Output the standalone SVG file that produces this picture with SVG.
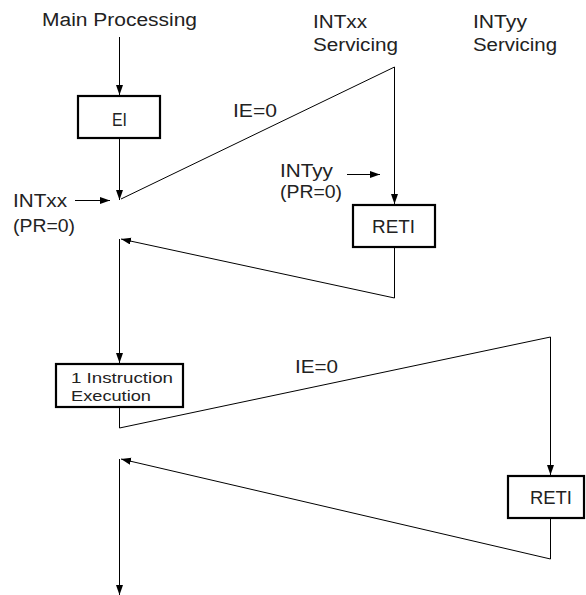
<svg xmlns="http://www.w3.org/2000/svg" width="586" height="595" viewBox="0 0 586 595">
<defs>
<marker id="ah" markerUnits="userSpaceOnUse" markerWidth="11" markerHeight="8" refX="10" refY="3.5" orient="auto">
<path d="M0,0 L10,3.5 L0,7 z" fill="#000"/>
</marker>
<style>
text{font-family:"Liberation Sans",Arial,sans-serif;font-size:18px;fill:#222}
.sm{font-size:15.5px}
.box{fill:#fff;stroke:#000;stroke-width:2.2}
.c{fill:none;stroke:#000;stroke-width:1}
.a{marker-end:url(#ah)}
</style>
</defs>
<rect width="586" height="595" fill="#fff"/>
<g id="labels">
<text x="42" y="26" textLength="155" lengthAdjust="spacingAndGlyphs">Main Processing</text>
<text x="313" y="28" textLength="54" lengthAdjust="spacingAndGlyphs">INTxx</text>
<text x="313" y="51" textLength="85" lengthAdjust="spacingAndGlyphs">Servicing</text>
<text x="473" y="28" textLength="54" lengthAdjust="spacingAndGlyphs">INTyy</text>
<text x="473" y="51" textLength="84" lengthAdjust="spacingAndGlyphs">Servicing</text>
<text x="233" y="117" textLength="44" lengthAdjust="spacingAndGlyphs">IE=0</text>
<text x="13" y="207" textLength="54" lengthAdjust="spacingAndGlyphs">INTxx</text>
<text x="13" y="232" textLength="62" lengthAdjust="spacingAndGlyphs">(PR=0)</text>
<text x="280" y="177" textLength="53" lengthAdjust="spacingAndGlyphs">INTyy</text>
<text x="280" y="198" textLength="62" lengthAdjust="spacingAndGlyphs">(PR=0)</text>
<text x="295" y="373" textLength="43" lengthAdjust="spacingAndGlyphs">IE=0</text>
</g>
<g id="connectors">
<line class="c a" x1="119.5" y1="37" x2="119.5" y2="95"/>
<line class="c a" x1="119.5" y1="138" x2="119.5" y2="200"/>
<line class="c a" x1="75" y1="200.5" x2="110" y2="200.5"/>
<polyline class="c a" points="121,199 394.5,67 394.5,204"/>
<line class="c a" x1="347" y1="174.5" x2="380" y2="174.5"/>
<polyline class="c a" points="394.5,247 394.5,298 121,239"/>
<polyline class="c a" points="119.5,239 119.5,363"/>
<polyline class="c a" points="119.5,407 119.5,428 550.5,337 550.5,475"/>
<polyline class="c a" points="550.5,518 550.5,559 121,459"/>
<polyline class="c a" points="119.5,459 119.5,595"/>
</g>
<g id="ei">
<rect class="box" x="78" y="96" width="82" height="42"/>
<text x="112" y="126" textLength="15" lengthAdjust="spacingAndGlyphs">EI</text>
</g>
<g id="reti1">
<rect class="box" x="353" y="205" width="82" height="42"/>
<text x="372" y="233" textLength="43" lengthAdjust="spacingAndGlyphs">RETI</text>
</g>
<g id="instr">
<rect class="box" x="56" y="364" width="127" height="43"/>
<text class="sm" x="71" y="382.5" textLength="102" lengthAdjust="spacingAndGlyphs">1 Instruction</text>
<text class="sm" x="71" y="400.5" textLength="80" lengthAdjust="spacingAndGlyphs">Execution</text>
</g>
<g id="reti2">
<rect class="box" x="508" y="476" width="76" height="42"/>
<text x="530" y="504" textLength="42" lengthAdjust="spacingAndGlyphs">RETI</text>
</g>
</svg>
